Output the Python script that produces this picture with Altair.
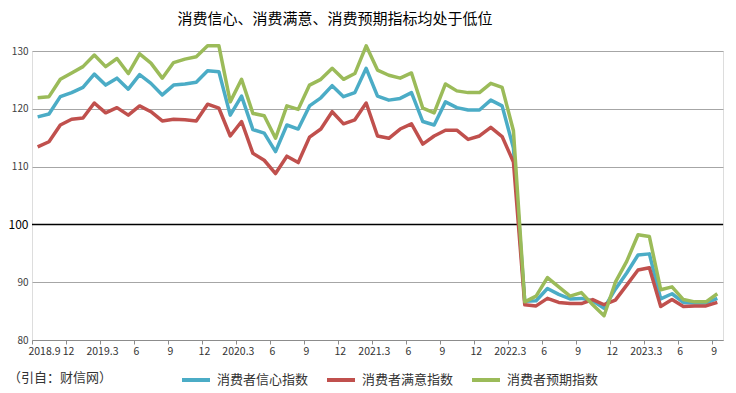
import altair as alt
import pandas as pd

# ---- data ----
months = []
for y in range(2018, 2024):
    for m in range(1, 13):
        if (y == 2018 and m < 9) or (y == 2023 and m > 9):
            continue
        months.append(f"{y}.{m}")

confidence = [118.6, 119.1, 122.1, 122.8, 123.7, 126.0, 124.1, 125.3, 123.4, 125.9,
              124.4, 122.4, 124.1, 124.3, 124.6, 126.6, 126.4, 118.9, 122.2, 116.4,
              115.8, 112.6, 117.2, 116.5, 120.5, 121.9, 124.0, 122.1, 122.8, 127.0,
              122.2, 121.5, 121.8, 122.8, 117.8, 117.2, 121.2, 120.2, 119.8, 119.8,
              121.5, 120.5, 113.2, 86.7, 86.8, 88.9, 87.9, 87.1, 87.2, 86.8,
              85.5, 88.8, 91.6, 94.7, 94.9, 87.1, 88.0, 86.5, 86.4, 86.4, 87.2]
satisfaction = [113.4, 114.3, 117.2, 118.2, 118.4, 121.0, 119.3, 120.2, 118.9, 120.5,
                119.5, 117.9, 118.2, 118.1, 117.9, 120.8, 120.1, 115.3, 117.8, 112.3,
                111.1, 108.8, 111.8, 110.7, 115.1, 116.5, 119.5, 117.4, 118.1, 121.0,
                115.3, 114.9, 116.5, 117.4, 113.9, 115.3, 116.3, 116.3, 114.7, 115.3,
                116.8, 115.2, 110.8, 86.1, 85.9, 87.2, 86.5, 86.3, 86.3, 87.0,
                86.1, 86.9, 89.5, 92.1, 92.5, 85.8, 87.0, 85.8, 85.9, 85.9, 86.5]
expectation = [121.9, 122.1, 125.1, 126.2, 127.3, 129.3, 127.3, 128.7, 126.1, 129.5,
               127.9, 125.3, 128.0, 128.6, 129.0, 130.9, 130.9, 121.2, 125.1, 119.2,
               118.8, 114.9, 120.5, 119.9, 124.1, 125.1, 127.0, 125.1, 126.1, 130.9,
               126.7, 125.8, 125.3, 126.2, 120.1, 119.3, 124.3, 123.1, 122.8, 122.8,
               124.4, 123.7, 116.2, 86.6, 87.6, 90.8, 89.2, 87.6, 88.2, 86.1,
               84.2, 90.0, 93.6, 98.2, 97.9, 88.7, 89.2, 87.0, 86.6, 86.6, 88.0]

series_names = ["消费者信心指数", "消费者满意指数", "消费者预期指数"]
series_colors = ["#4BACC6", "#C0504D", "#9BBB59"]

x_tick_labels = ["2018.9", "12", "2019.3", "6", "9", "12", "2020.3", "6", "9", "12",
                 "2021.3", "6", "9", "12", "2022.3", "6", "9", "12", "2023.3", "6", "9"]
y_ticks = [80, 90, 100, 110, 120, 130]

title_text = "消费信心、消费满意、消费预期指标均处于低位"
source_text = "（引自：财信网）"

FONT = "Noto Sans CJK SC"

# ---- build table ----
rows = []
for name, vals in zip(series_names, [confidence, satisfaction, expectation]):
    for i, (m, v) in enumerate(zip(months, vals)):
        rows.append({"idx": i, "month": m, "series": name, "value": v})
df = pd.DataFrame(rows)

n = len(months)
x_tick_values = [-0.5 + 3 * k for k in range(len(x_tick_labels))]
label_arr = "[" + ",".join(f"'{s}'" for s in x_tick_labels) + "]"

x_scale = alt.Scale(domain=[-0.5, n - 0.5], nice=False, zero=False)
y_scale = alt.Scale(domain=[80, 130], nice=False, zero=False)

base_x = alt.X("idx:Q", scale=x_scale, axis=alt.Axis(
    values=x_tick_values,
    labelExpr=f"{label_arr}[round((datum.value + 0.5) / 3)]",
    grid=False, domainColor="#8c8c8c", tickColor="#8c8c8c", tickSize=4,
    labelFontSize=10.5, labelColor="#333333", labelPadding=2, labelOverlap=False,
    labelFlush=False, labelBound=False,
    labelOffset={"condition": {"test": "datum.value < 0", "value": 12}, "value": 2},
    labelFont=FONT, title=None))

base_y = alt.Y("value:Q", scale=y_scale, axis=alt.Axis(
    values=y_ticks, grid=True, gridColor="#a6a6a6", gridWidth=1,
    domain=False, ticks=False, labelPadding=4,
    labelFontSize={"condition": {"test": "datum.value === 100", "value": 12}, "value": 10},
    labelColor={"condition": {"test": "datum.value === 100", "value": "#000000"}, "value": "#404040"},
    labelFont=FONT, title=None))

rule100 = alt.Chart(pd.DataFrame({"value": [100]})).mark_rule(
    color="#000000", strokeWidth=1.5).encode(y=alt.Y("value:Q", scale=y_scale))

lines = alt.Chart(df).mark_line(strokeWidth=3.5, strokeJoin="round").encode(
    x=base_x,
    y=base_y,
    color=alt.Color("series:N",
                    scale=alt.Scale(domain=series_names, range=series_colors),
                    sort=series_names,
                    legend=alt.Legend(orient="none", legendX=148, legendY=313,
                                      direction="horizontal", title=None,
                                      symbolType="stroke", symbolStrokeWidth=4,
                                      symbolSize=784, labelFontSize=13,
                                      labelColor="#333333", labelFont=FONT,
                                      columnPadding=10, labelOffset=5)),
    order=alt.Order("idx:Q"),
)

title = alt.Chart(pd.DataFrame({"t": [title_text]})).mark_text(
    align="center", baseline="middle", fontSize=15, font=FONT, color="#000000"
).encode(text="t:N", x=alt.value(303), y=alt.value(-32))

source = alt.Chart(pd.DataFrame({"t": [source_text]})).mark_text(
    align="left", baseline="middle", fontSize=13, font=FONT, color="#333333"
).encode(text="t:N", x=alt.value(-24), y=alt.value(327))

chart = alt.layer(rule100, lines, title, source).properties(
    width=691, height=289,
    autosize=alt.AutoSizeParams(type="none"),
    padding={"left": 24, "top": 43, "right": 5, "bottom": 50},
).configure_view(stroke=None).configure(font=FONT)

chart.save("out.html", embed_options={"renderer": "svg", "actions": False})
